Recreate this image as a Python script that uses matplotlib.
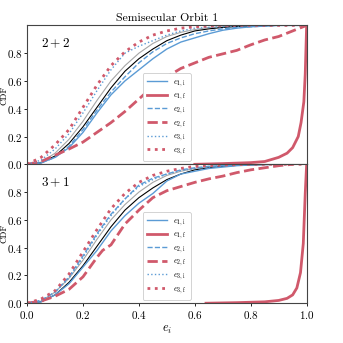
import numpy as np
import matplotlib
matplotlib.use('Agg')
from matplotlib import pyplot as plt

plt.rcParams['font.family'] = 'serif'
plt.rcParams['font.serif'] = ['cmr10']
plt.rcParams['mathtext.fontset'] = 'cm'
plt.rcParams['axes.formatter.use_mathtext'] = True
plt.rcParams['axes.unicode_minus'] = False

BLUE = '#5b9bd5'
RED = '#d0596b'

# begin DATA
# theoretical curves (shared by both panels)
theory_e = [0.0, 0.05, 0.1, 0.15, 0.2, 0.25, 0.3, 0.35, 0.4, 0.45, 0.5,
            0.55, 0.6, 0.65, 0.7, 0.75, 0.8, 0.85, 0.9, 1.0]
black_cdf = [0.0, 0.01, 0.06, 0.15, 0.27, 0.41, 0.55, 0.67, 0.76, 0.83, 0.89,
             0.93, 0.96, 0.975, 0.985, 0.992, 0.996, 0.998, 1.0, 1.0]
gray_cdf = [0.0, 0.015, 0.08, 0.18, 0.31, 0.46, 0.60, 0.71, 0.80, 0.87, 0.92,
            0.95, 0.97, 0.985, 0.99, 0.995, 0.998, 0.999, 1.0, 1.0]

grid_e = [0.0, 0.05, 0.1, 0.15, 0.2, 0.25, 0.3, 0.35, 0.4, 0.45, 0.5,
          0.55, 0.6, 0.65, 0.7, 0.75, 0.8, 0.85, 0.9, 0.95, 1.0]

# panel 2+2
e1i_22 = [0.0, 0.01, 0.05, 0.12, 0.23, 0.37, 0.50, 0.60, 0.68, 0.76, 0.83,
          0.88, 0.91, 0.94, 0.965, 0.98, 0.99, 0.995, 1.0, 1.0, 1.0]
e2i_22 = [0.0, 0.01, 0.05, 0.13, 0.25, 0.39, 0.52, 0.63, 0.73, 0.81, 0.87,
          0.91, 0.94, 0.96, 0.975, 0.985, 0.99, 0.995, 1.0, 1.0, 1.0]
e3i_22 = [0.0, 0.03, 0.11, 0.22, 0.37, 0.53, 0.68, 0.80, 0.85, 0.89, 0.93,
          0.96, 0.98, 0.985, 0.99, 0.995, 1.0, 1.0, 1.0, 1.0, 1.0]
e2f_22 = [0.0, 0.02, 0.065, 0.11, 0.16, 0.23, 0.30, 0.38, 0.47, 0.56, 0.63,
          0.69, 0.73, 0.77, 0.795, 0.82, 0.86, 0.895, 0.92, 0.96, 1.0]
e3f_22 = [0.0, 0.05, 0.14, 0.25, 0.41, 0.57, 0.71, 0.81, 0.88, 0.93, 0.96,
          0.98, 0.99, 0.995, 1.0, 1.0, 1.0, 1.0, 1.0, 1.0, 1.0]
e1f_22_e = [0.6, 0.7, 0.8, 0.85, 0.9, 0.93, 0.95, 0.97, 0.98, 0.99, 0.995, 1.0]
e1f_22 = [0.0, 0.005, 0.012, 0.02, 0.05, 0.08, 0.12, 0.2, 0.3, 0.45, 0.65, 1.0]

# panel 3+1
e1i_31 = [0.0, 0.01, 0.06, 0.14, 0.26, 0.38, 0.52, 0.63, 0.72, 0.79, 0.88,
          0.93, 0.95, 0.97, 0.98, 0.99, 0.995, 0.998, 1.0, 1.0, 1.0]
e2i_31 = [0.0, 0.02, 0.08, 0.19, 0.34, 0.50, 0.64, 0.75, 0.85, 0.90, 0.93,
          0.96, 0.975, 0.985, 0.99, 0.995, 1.0, 1.0, 1.0, 1.0, 1.0]
e3i_31 = [0.0, 0.02, 0.08, 0.18, 0.33, 0.49, 0.63, 0.75, 0.84, 0.89, 0.93,
          0.955, 0.97, 0.98, 0.99, 0.995, 1.0, 1.0, 1.0, 1.0, 1.0]
e2f_31_e = [0.0, 0.05, 0.1, 0.15, 0.2, 0.25, 0.27, 0.3, 0.35, 0.4, 0.45, 0.5,
            0.55, 0.6, 0.65, 0.7, 0.75, 0.8, 0.85, 0.9, 0.95]
e2f_31 = [0.0, 0.015, 0.05, 0.10, 0.19, 0.33, 0.38, 0.42, 0.57, 0.67, 0.76,
          0.81, 0.84, 0.87, 0.895, 0.915, 0.94, 0.96, 0.975, 0.99, 1.0]
e3f_31 = [0.0, 0.03, 0.09, 0.21, 0.37, 0.53, 0.68, 0.79, 0.87, 0.92, 0.95,
          0.97, 0.985, 0.99, 0.995, 0.998, 1.0, 1.0, 1.0, 1.0, 1.0]
e1f_31_e = [0.64, 0.75, 0.85, 0.9, 0.93, 0.95, 0.965, 0.978, 0.988, 0.995, 1.0]
e1f_31 = [0.0, 0.004, 0.01, 0.02, 0.035, 0.06, 0.11, 0.22, 0.43, 0.79, 1.0]
# end DATA

panels = [
    ('$2+2$', e1i_22, (e1f_22_e, e1f_22), e2i_22, (grid_e, e2f_22), e3i_22, e3f_22),
    ('$3+1$', e1i_31, (e1f_31_e, e1f_31), e2i_31, (e2f_31_e, e2f_31), e3i_31, e3f_31),
]

fig = plt.figure(figsize=(3.43, 3.43), dpi=100)
ax_top = fig.add_axes([0.079, 0.521, 0.815, 0.405])
ax_bot = fig.add_axes([0.079, 0.116, 0.815, 0.405], sharex=ax_top)

for ax, (name, e1i, e1f, e2i, e2f, e3i, e3f) in zip([ax_top, ax_bot], panels):
    ax.plot(theory_e, gray_cdf, color='0.65', lw=0.8)
    ax.plot(theory_e, black_cdf, color='k', lw=0.8)
    ax.plot(grid_e, e1i, color=BLUE, lw=1.0, label=r'$e_{1,\mathrm{i}}$')
    ax.plot(e1f[0], e1f[1], color=RED, lw=2.0, label=r'$e_{1,\mathrm{f}}$')
    ax.plot(grid_e, e2i, color=BLUE, lw=1.0, ls='--', label=r'$e_{2,\mathrm{i}}$')
    ax.plot(e2f[0], e2f[1], color=RED, lw=2.0, ls='--', label=r'$e_{2,\mathrm{f}}$')
    ax.plot(grid_e, e3i, color=BLUE, lw=1.0, ls=':', label=r'$e_{3,\mathrm{i}}$')
    ax.plot(grid_e, e3f, color=RED, lw=2.0, ls=':', label=r'$e_{3,\mathrm{f}}$')

    ax.set_xlim(0, 1)
    ax.set_ylim(0, 1)
    ax.set_yticks([0.0, 0.2, 0.4, 0.6, 0.8])
    ax.tick_params(labelsize=8, length=2, width=0.6, pad=1)
    for s in ax.spines.values():
        s.set_color('#444444')
        s.set_linewidth(0.8)
    ax.set_ylabel('CDF', fontsize=6.5)
    ax.yaxis.set_label_coords(-0.068, 0.5)
    ax.text(0.05, 0.87, name, transform=ax.transAxes, fontsize=9.5,
            va='center', ha='left')
    leg = ax.legend(loc='lower center', fontsize=6, handlelength=2.4,
                    borderaxespad=0.4, labelspacing=0.3, borderpad=0.5,
                    framealpha=1.0, edgecolor='0.8')
    leg.get_frame().set_linewidth(0.6)

ax_top.tick_params(labelbottom=False)
ax_bot.set_xticks([0.0, 0.2, 0.4, 0.6, 0.8, 1.0])
ax_bot.tick_params(axis='x', pad=2)
ax_bot.set_xlabel('$e_i$', fontsize=9, labelpad=2)
ax_top.set_title('Semisecular Orbit 1', fontsize=8.5, pad=3)

fig.savefig('out.png', dpi=100)
